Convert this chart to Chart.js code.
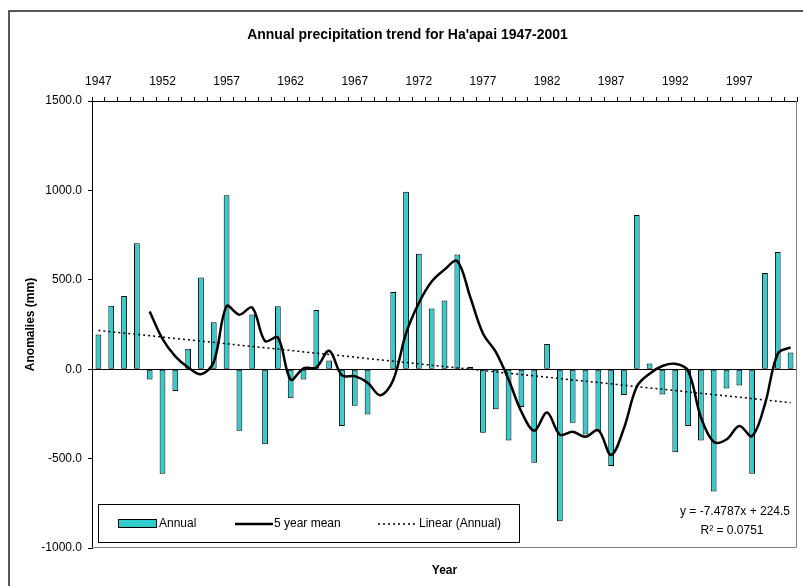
<!DOCTYPE html>
<html>
<head>
<meta charset="utf-8">
<title>Annual precipitation trend for Ha'apai 1947-2001</title>
<script src="https://cdn.jsdelivr.net/npm/chart.js@4.4.1/dist/chart.umd.min.js"></script>
<style>
    html, body { margin: 0; padding: 0; background: #fff; overflow: hidden; }
    #wrap { position: absolute; left: 0; top: 0; width: 820px; height: 586px; }
</style>
</head>
<body>
<div id="wrap"><canvas id="rainChart" width="820" height="586"></canvas></div>
<script>
// Données
const years = ['1947', '1948', '1949', '1950', '1951', '1952', '1953', '1954', '1955', '1956',
    '1957', '1958', '1959', '1960', '1961', '1962', '1963', '1964', '1965', '1966',
    '1967', '1968', '1969', '1970', '1971', '1972', '1973', '1974', '1975', '1976',
    '1977', '1978', '1979', '1980', '1981', '1982', '1983', '1984', '1985', '1986',
    '1987', '1988', '1989', '1990', '1991', '1992', '1993', '1994', '1995', '1996',
    '1997', '1998', '1999', '2000', '2001'];

const annual = [194, 355, 409, 705, -57, -585, -122, 114, 513, 262,
    973, -344, 306, -420, 352, -162, -57, 331, 48, -317,
    -205, -253, -3, 432, 992, 646, 340, 384, 641, 13,
    -355, -224, -399, -211, -523, 141, -850, -300, -365, -348,
    -542, -144, 863, 32, -141, -464, -317, -399, -684, -108,
    -91, -585, 538, 656, 93];

const fiveYearMean = [null, null, null, null, 323, 170, 72, 10, -28, 40,
    352, 305, 345, 157, 177, -58, 5, 10, 103, -34,
    -39, -76, -146, -60, 200, 370, 490, 557, 605, 405,
    200, 97, -58, -238, -344, -242, -366, -350, -378, -342,
    -480, -330, -98, -25, 18, 30, -9, -268, -406, -393,
    -318, -374, -195, 87, 122];

// Droite de tendance : seulement les deux extrémités
const trendEnds = [217, null, null, null, null, null, null, null, null, null,
    null, null, null, null, null, null, null, null, null, null,
    null, null, null, null, null, null, null, null, null, null,
    null, null, null, null, null, null, null, null, null, null,
    null, null, null, null, null, null, null, null, null, null,
    null, null, null, null, -187];

const yTicks = [-1000, -500, 0, 500, 1000, 1500];
const equationText = 'y = -7.4787x + 224.5';
const r2Text = 'R² = 0.0751';

const FONT = "'Liberation Sans', Arial, sans-serif";
const TEAL = '#33CCCC';

// Cadre, bordures de la zone de tracé, légende et équation
const decorPlugin = {
    id: 'decor',
    beforeDraw(chart) {
        const ctx = chart.ctx;
        ctx.save();
        ctx.fillStyle = '#fff';
        ctx.fillRect(0, 0, chart.width, chart.height);
        ctx.restore();
    },
    afterDraw(chart) {
        const { ctx, chartArea: a } = chart;
        ctx.save();

        // cadre extérieur (coupé à droite et en bas)
        ctx.strokeStyle = '#222';
        ctx.lineWidth = 1.5;
        ctx.beginPath();
        ctx.moveTo(9, chart.height);
        ctx.lineTo(9, 11);
        ctx.lineTo(chart.width, 11);
        ctx.stroke();

        // bords droit et bas de la zone de tracé
        ctx.strokeStyle = '#808080';
        ctx.lineWidth = 1;
        ctx.beginPath();
        ctx.moveTo(a.left, Math.round(a.bottom) - 0.5);
        ctx.lineTo(Math.round(a.right) - 0.5, Math.round(a.bottom) - 0.5);
        ctx.lineTo(Math.round(a.right) - 0.5, a.top);
        ctx.stroke();

        // légende
        const lx = a.left + 6, ly = a.bottom - 44, lw = 421, lh = 38;
        ctx.fillStyle = '#fff';
        ctx.fillRect(lx, ly, lw, lh);
        ctx.strokeStyle = '#000';
        ctx.lineWidth = 1;
        ctx.strokeRect(lx + 0.5, ly + 0.5, lw, lh);

        const cy = ly + 20;
        ctx.fillStyle = TEAL;
        ctx.fillRect(lx + 20, cy - 4, 38, 8);
        ctx.strokeRect(lx + 20.5, cy - 4.5, 38, 8);

        ctx.strokeStyle = '#000';
        ctx.lineWidth = 2.5;
        ctx.beginPath();
        ctx.moveTo(lx + 137, cy);
        ctx.lineTo(lx + 175, cy);
        ctx.stroke();

        ctx.lineWidth = 1.5;
        ctx.setLineDash([2, 3]);
        ctx.beginPath();
        ctx.moveTo(lx + 280, cy);
        ctx.lineTo(lx + 319, cy);
        ctx.stroke();
        ctx.setLineDash([]);

        ctx.fillStyle = '#000';
        ctx.font = '12px ' + FONT;
        ctx.textBaseline = 'middle';
        ctx.textAlign = 'left';
        ctx.fillText('Annual', lx + 61, cy);
        ctx.fillText('5 year mean', lx + 176, cy);
        ctx.fillText('Linear (Annual)', lx + 321, cy);

        // équation de la tendance
        ctx.textAlign = 'center';
        ctx.fillText(equationText, 735, 512);
        ctx.fillText(r2Text, 732, 531);

        ctx.restore();
    }
};

const ctx = document.getElementById('rainChart').getContext('2d');
const rainChart = new Chart(ctx, {
    data: {
        labels: years,
        datasets: [
            {
                type: 'line',
                label: '5 year mean',
                data: fiveYearMean,
                borderColor: '#000',
                borderWidth: 2.5,
                pointRadius: 0,
                tension: 0.35,
                fill: false,
                xAxisID: 'x',
                order: 1
            },
            {
                type: 'line',
                label: 'Linear (Annual)',
                data: trendEnds,
                borderColor: '#000',
                borderWidth: 1.5,
                borderDash: [2, 3],
                pointRadius: 0,
                spanGaps: true,
                fill: false,
                xAxisID: 'x',
                order: 2
            },
            {
                type: 'bar',
                label: 'Annual',
                data: annual,
                backgroundColor: TEAL,
                borderColor: '#000',
                borderWidth: 1,
                borderSkipped: false,
                barPercentage: 0.45,
                categoryPercentage: 1,
                xAxisID: 'x',
                order: 3
            }
        ]
    },
    options: {
        responsive: false,
        animation: false,
        devicePixelRatio: 1,
        layout: { padding: { left: 18, right: 23, top: 0, bottom: 0 } },
        plugins: {
            legend: { display: false },
            tooltip: { enabled: false },
            title: {
                display: true,
                text: "Annual precipitation trend for Ha'apai 1947-2001",
                color: '#000',
                font: { family: FONT, size: 14, weight: 'bold' },
                padding: { top: 27, bottom: 0 }
            }
        },
        scales: {
            x: {
                type: 'category',
                position: 'top',
                offset: true,
                grid: { display: true, offset: true, drawOnChartArea: false, drawTicks: true, tickLength: 4, color: '#000' },
                border: { display: true, color: '#000', width: 1 },
                ticks: {
                    autoSkip: false,
                    maxRotation: 0,
                    padding: 8,
                    color: '#000',
                    font: { family: FONT, size: 12 },
                    callback: (val, i) => (i % 5 === 0 ? years[i] : '')
                },
                afterFit: scale => { scale.height = 57.2; }
            },
            xb: {
                type: 'category',
                position: 'bottom',
                grid: { display: false },
                border: { display: false },
                ticks: { display: false },
                title: {
                    display: true,
                    text: 'Year',
                    color: '#000',
                    font: { family: FONT, size: 12, weight: 'bold' },
                    padding: { top: 0, bottom: 8 }
                },
                afterFit: scale => { scale.height = 38; }
            },
            y: {
                min: yTicks[0],
                max: yTicks[yTicks.length - 1],
                afterBuildTicks: scale => { scale.ticks = yTicks.map(v => ({ value: v })); },
                grid: {
                    drawOnChartArea: true,
                    drawTicks: true,
                    tickLength: 4,
                    tickColor: '#000',
                    color: c => (c.tick && c.tick.value === 0 ? '#000' : 'rgba(0,0,0,0)')
                },
                border: { display: true, color: '#000', width: 1 },
                ticks: {
                    padding: 6,
                    color: '#000',
                    font: { family: FONT, size: 12 },
                    callback: v => Number(v).toFixed(1)
                },
                title: {
                    display: true,
                    text: 'Anomalies (mm)',
                    color: '#000',
                    font: { family: FONT, size: 12, weight: 'bold' },
                    padding: { top: 5, bottom: 0 }
                },
                afterFit: scale => { scale.width = 74; }
            }
        }
    },
    plugins: [decorPlugin]
});
</script>
</body>
</html>
